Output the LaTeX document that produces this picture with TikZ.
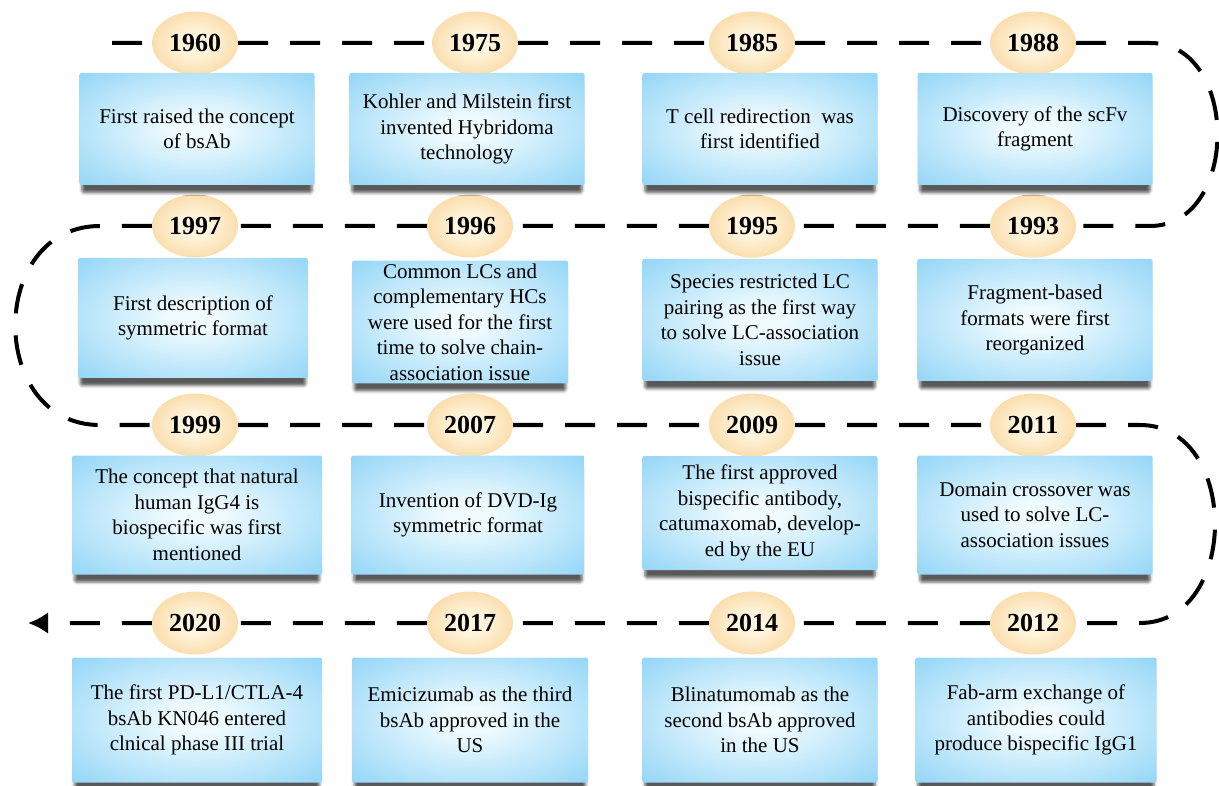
\documentclass[tikz,border=0pt]{standalone}
\usepackage{fontspec}
\setmainfont{Liberation Serif}
\usetikzlibrary{arrows.meta,shapes.geometric,shadows.blur}
\definecolor{boxout}{RGB}{104,196,243}
\definecolor{boxin}{RGB}{240,251,255}
\definecolor{yrout}{RGB}{244,188,104}
\definecolor{yrin}{RGB}{255,245,222}
\pgfdeclareradialshading{boxglow}{\pgfpoint{0bp}{0bp}}{color(0bp)=(boxin); color(5bp)=(boxin); color(50bp)=(boxout)}
\pgfdeclareradialshading{yrglow}{\pgfpoint{0bp}{0bp}}{color(0bp)=(yrin); color(8bp)=(yrin); color(50bp)=(yrout)}
\tikzset{
  yr/.style={ellipse,shading=yrglow,minimum width=86pt,minimum height=63pt,inner sep=0pt,
    font=\fontsize{26}{30}\selectfont\bfseries},
  ev/.style={rectangle,rounded corners=2pt,shading=boxglow,minimum width=235pt,minimum height=#1,
    inner sep=3pt,align=center,font=\fontsize{21}{25.5}\selectfont,
    blur shadow={shadow xshift=0pt,shadow yshift=-9pt,shadow scale=0.98,shadow opacity=65,shadow blur radius=3pt}},
  ev/.default=119pt,
  timeline/.style={line width=4pt,dash pattern=on 30pt off 22pt}
}

\begin{document}
\begin{tikzpicture}[x=1pt,y=-1pt]
\useasboundingbox (0,0) rectangle (1219,786);
% years
\node[yr] (y1) at (195,43) {1960};
\node[yr] (y2) at (475,43) {1975};
\node[yr] (y3) at (752,43) {1985};
\node[yr] (y4) at (1033,43) {1988};
\node[yr] (y5) at (1033,226) {1993};
\node[yr] (y6) at (752,226) {1995};
\node[yr] (y7) at (470,226) {1996};
\node[yr] (y8) at (195,226) {1997};
\node[yr] (y9) at (195,425) {1999};
\node[yr] (y10) at (470,425) {2007};
\node[yr] (y11) at (752,425) {2009};
\node[yr] (y12) at (1033,425) {2011};
\node[yr] (y13) at (1033,623) {2012};
\node[yr] (y14) at (752,623) {2014};
\node[yr] (y15) at (470,623) {2017};
\node[yr] (y16) at (195,623) {2020};
% events
\node[ev=112pt] (b1) at (197,129) {First raised the concept\\of bsAb};
\node[ev=112pt] (b2) at (467,129) {Kohler and Milstein first\\invented Hybridoma\\technology};
\node[ev=112pt] (b3) at (760,129) {T cell redirection\ \ was\\first identified};
\node[ev=112pt] (b4) at (1035,129) {Discovery of the scFv\\fragment};
\node[ev=122pt] (b5) at (1035,320) {Fragment-based\\formats were first\\reorganized};
\node[ev=122pt] (b6) at (760,320) {Species restricted LC\\pairing as the first way\\to solve LC-association\\issue};
\node[ev=122pt,minimum width=216pt] (b7) at (460,322) {Common LCs and\\complementary HCs\\were used for the first\\time to solve chain-\\association issue};
\node[ev=120pt,minimum width=230pt] (b8) at (193,318) {First description of\\symmetric format};
\node[ev,minimum width=250pt] (b9) at (197,515) {The concept that natural\\human IgG4 is\\biospecific was first\\mentioned};
\node[ev,minimum width=233pt] (b10) at (468,515) {Invention of DVD-Ig\\symmetric format};
\node[ev=114pt] (b11) at (760,513) {The first approved\\bispecific antibody,\\catumaxomab, develop-\\ed by the EU};
\node[ev] (b12) at (1035,515) {Domain crossover was\\used to solve LC-\\association issues};
\node[ev=125pt,minimum width=241pt] (b13) at (1036,720) {Fab-arm exchange of\\antibodies could\\produce bispecific IgG1};
\node[ev=125pt] (b14) at (760,720) {Blinatumomab as the\\second bsAb approved\\in the US};
\node[ev=125pt,minimum width=236pt] (b15) at (470,720) {Emicizumab as the third\\bsAb approved in the\\US};
\node[ev=125pt,minimum width=250pt] (b16) at (197,720) {The first PD-L1/CTLA-4\\bsAb KN046 entered\\clnical phase III trial};
% timeline
\coordinate (r1s) at (112,43);
\coordinate (r1e) at (1150,43);
\coordinate (r2s) at (1150,226);
\coordinate (r2e) at (100,226);
\coordinate (r3s) at (100,425);
\coordinate (r3e) at (1140,425);
\coordinate (r4s) at (1140,623);
\coordinate (tip) at (28,623);
\draw[timeline,-{Latex[length=20pt,width=22pt]}] (r1s) -- (y1) -- (y2) -- (y3) -- (y4) -- (r1e)
  .. controls +(90,0) and +(90,0) .. (r2s) -- (y5) -- (y6) -- (y7) -- (y8) -- (r2e)
  .. controls +(-113,0) and +(-113,0) .. (r3s) -- (y9) -- (y10) -- (y11) -- (y12) -- (r3e)
  .. controls +(100,0) and +(100,0) .. (r4s) -- (y13) -- (y14) -- (y15) -- (y16) -- (tip);
\end{tikzpicture}
\end{document}
